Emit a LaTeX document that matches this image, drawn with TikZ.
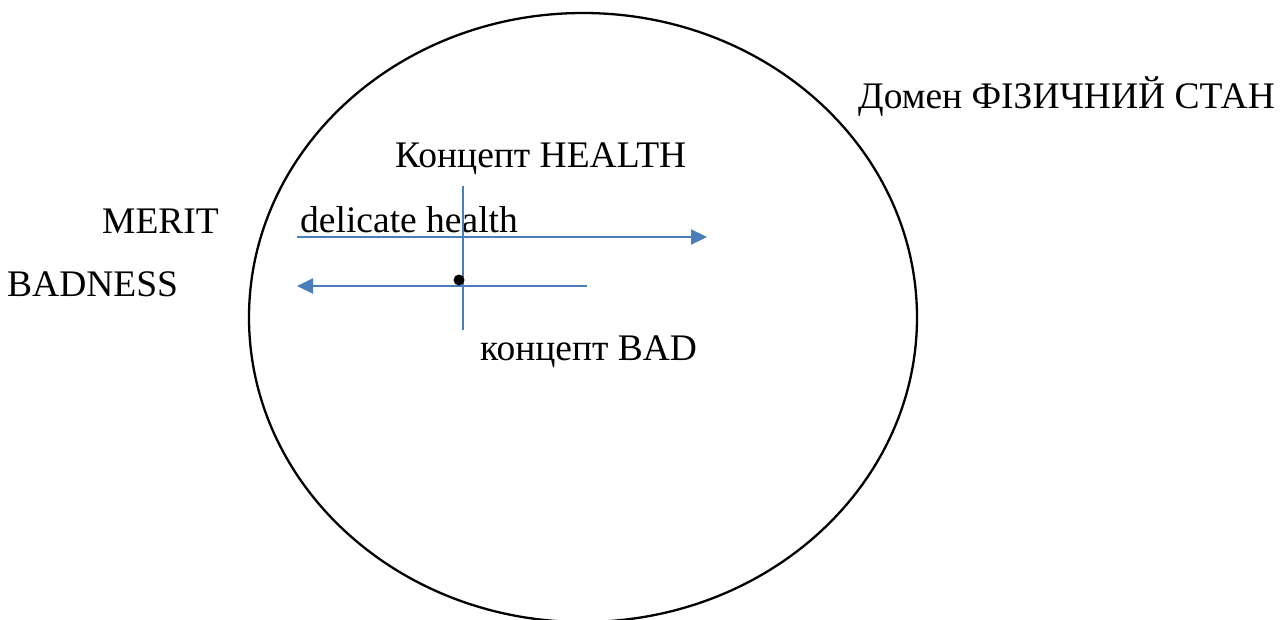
\documentclass[tikz,border=0pt]{standalone}
\usepackage{fontspec}
\setmainfont{Liberation Serif}
\usetikzlibrary{arrows.meta}
\definecolor{lineblue}{RGB}{74,126,187}
\begin{document}
\begin{tikzpicture}[x=1pt,y=-1pt,
  lbl/.style={anchor=base west,inner sep=0pt,font=\fontsize{37.5}{42}\selectfont},
  bluearrow/.style={draw=lineblue,line width=2.2pt,-{Triangle[length=16pt,width=15pt]}},
  axisline/.style={draw=lineblue,line width=1.2pt}]
\useasboundingbox (0,0) rectangle (1285,619);
\draw[line width=2.3pt] (583,317.5) ellipse [x radius=334pt, y radius=304.5pt];
\node[lbl] (domain) at (858,108) {Домен ФІЗИЧНИЙ СТАН};
\node[lbl] (health) at (395,167) {Концепт HEALTH};
\node[lbl] (merit) at (102,233) {MERIT};
\node[lbl] (badness) at (7,296) {BADNESS};
\node[lbl] (delicate) at (300,232) {delicate health};
\node[lbl] (bad) at (480,360) {концепт BAD};
\coordinate (a1s) at (297,237);
\coordinate (a1e) at (707,237);
\coordinate (a2s) at (587,286);
\coordinate (a2e) at (297,286);
\coordinate (vt) at (463,186);
\coordinate (vb) at (463,330);
\draw[axisline] (vt) -- (vb);
\draw[bluearrow] (a1s) -- (a1e);
\draw[bluearrow] (a2s) -- (a2e);
\fill (459,280) circle (5.5pt) node (dot) {};
\end{tikzpicture}
\end{document}
